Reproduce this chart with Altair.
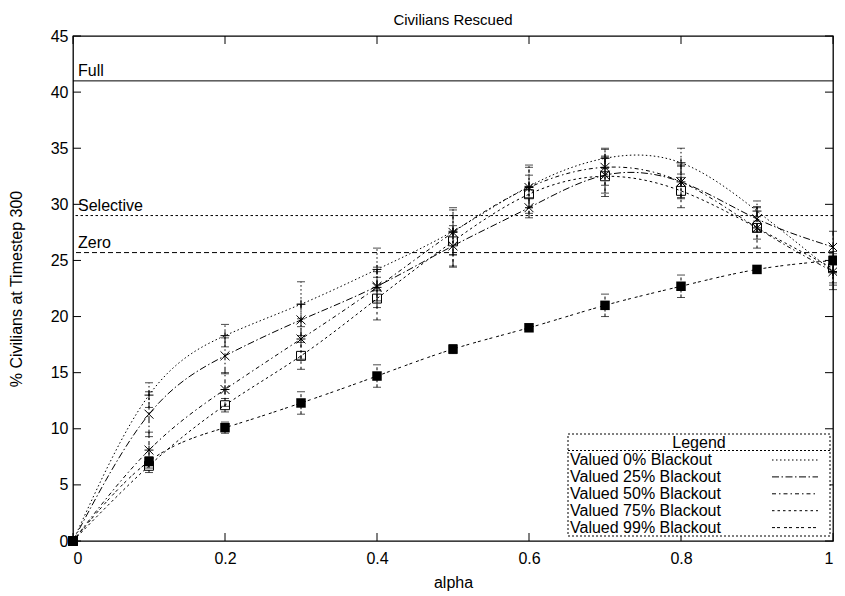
import altair as alt
import pandas as pd

alphas = [0.0, 0.1, 0.2, 0.3, 0.4, 0.5, 0.6, 0.7, 0.8, 0.9, 1.0]
series = ["Valued 0% Blackout", "Valued 25% Blackout", "Valued 50% Blackout",
          "Valued 75% Blackout", "Valued 99% Blackout"]

v0 = [0, 13.0, 18.3, 21.1, 24.2, 27.6, 31.6, 34.1, 33.7, 29.4, 24.0]
v25 = [0, 11.3, 16.5, 19.7, 22.7, 26.3, 29.7, 32.6, 32.0, 28.7, 26.2]
v50 = [0, 8.1, 13.5, 18.0, 22.6, 27.5, 31.5, 33.3, 32.0, 27.9, 24.0]
v75 = [0, 6.7, 12.1, 16.5, 21.6, 26.7, 30.9, 32.5, 31.2, 27.9, 24.3]
v99 = [0, 7.1, 10.1, 12.3, 14.7, 17.1, 19.0, 21.0, 22.7, 24.2, 25.0]

e0 = [0, 1.1, 1.0, 2.0, 1.9, 2.1, 1.9, 0.9, 1.3, 0.9, 1.0]
e25 = [0, 2.0, 1.6, 1.4, 1.3, 1.8, 0.9, 1.6, 1.5, 1.1, 1.4]
e50 = [0, 1.6, 1.5, 1.8, 1.8, 2.0, 1.8, 1.6, 1.4, 1.0, 1.6]
e75 = [0, 0.6, 0.6, 1.2, 1.9, 2.3, 1.7, 1.8, 1.5, 1.8, 1.5]
e99 = [0, 0.4, 0.5, 1.0, 1.0, 0.4, 0.2, 1.0, 1.0, 0.2, 0.4]

ref_names = ["Full", "Selective", "Zero"]
ref_values = [41.0, 29.0, 25.7]

x_ticks = [0, 0.2, 0.4, 0.6, 0.8, 1.0]
y_ticks = [0, 5, 10, 15, 20, 25, 30, 35, 40, 45]

W, H = 760, 505
FONT = "Liberation Sans"
FS = 16

vals = [v0, v25, v50, v75, v99]
errs = [e0, e25, e50, e75, e99]
rows = []
for s, vs, es in zip(series, vals, errs):
    for a, v, e in zip(alphas, vs, es):
        rows.append({"series": s, "alpha": a, "value": v, "err": e,
                     "lo": v - e, "hi": v + e})
df = pd.DataFrame(rows)

dashes = [[1.5, 2.5], [7, 2.5, 1.5, 2.5], [4, 3, 1.5, 3], [2.5, 3], [3, 2, 3, 4]]
dash_scale = alt.Scale(domain=series, range=dashes)

plus = "M-1,0L1,0M0,-1L0,1"
cross = "M-1,-1L1,1M-1,1L1,-1"
star = "M-1,0L1,0M0,-1L0,1M-1,-1L1,1M-1,1L1,-1"
shape_scale = alt.Scale(domain=series, range=[plus, cross, star, "square", "square"])

xs = alt.Scale(domain=[0, 1], nice=False, zero=False)
ys = alt.Scale(domain=[0, 45], nice=False, zero=False)

X = alt.X("alpha:Q", scale=xs,
          axis=alt.Axis(values=x_ticks, title="alpha", format="~g",
                        labelPadding=9, titlePadding=8))
Y = alt.Y("value:Q", scale=ys,
          axis=alt.Axis(values=y_ticks, title="% Civilians at Timestep 300",
                        labelPadding=5, titlePadding=26))

base = alt.Chart(df)

lines = base.mark_line(interpolate="natural", color="black", strokeWidth=1).encode(
    x=X, y=Y,
    strokeDash=alt.StrokeDash("series:N", scale=dash_scale, legend=None),
    detail="series:N",
)

err_df = df[df["err"] > 0]
ebase = alt.Chart(err_df)
err_rules = ebase.mark_rule(color="black", strokeWidth=1).encode(
    x=alt.X("alpha:Q", scale=xs),
    y=alt.Y("lo:Q", scale=ys),
    y2="hi:Q",
    strokeDash=alt.StrokeDash("series:N", scale=dash_scale, legend=None),
)
cap_lo = ebase.mark_tick(orient="horizontal", size=8, thickness=1, color="black").encode(
    x=alt.X("alpha:Q", scale=xs), y=alt.Y("lo:Q", scale=ys))
cap_hi = ebase.mark_tick(orient="horizontal", size=8, thickness=1, color="black").encode(
    x=alt.X("alpha:Q", scale=xs), y=alt.Y("hi:Q", scale=ys))

pts_open = base.transform_filter(alt.datum.series != series[4]).mark_point(
    filled=False, color="black", strokeWidth=1, size=80, opacity=1).encode(
    x=alt.X("alpha:Q", scale=xs), y=alt.Y("value:Q", scale=ys),
    shape=alt.Shape("series:N", scale=shape_scale, legend=None),
)
pts_fill = base.transform_filter(alt.datum.series == series[4]).mark_point(
    filled=True, color="black", size=90, opacity=1, shape="square").encode(
    x=alt.X("alpha:Q", scale=xs), y=alt.Y("value:Q", scale=ys),
)

ref_df = pd.DataFrame({"name": ref_names, "value": ref_values})
ref_dashes = [[1, 0], [2.5, 2.5], [5, 3]]
ref_rules = [
    alt.Chart(ref_df).transform_filter(alt.datum.name == n).mark_rule(
        color="black", strokeWidth=1, strokeDash=d).encode(y=alt.Y("value:Q", scale=ys))
    for n, d in zip(ref_names, ref_dashes)
]
ref_text = alt.Chart(ref_df).mark_text(
    align="left", baseline="bottom", dx=5, dy=-2, font=FONT, fontSize=FS, color="black").encode(
    x=alt.value(0), y=alt.Y("value:Q", scale=ys), text="name:N")

# inward ticks on all four sides
yt_df = pd.DataFrame({"v": y_ticks})
xt_df = pd.DataFrame({"v": x_ticks})
yt_left = alt.Chart(yt_df).mark_rule(color="black").encode(
    y=alt.Y("v:Q", scale=ys), x=alt.value(0), x2=alt.value(8))
yt_right = alt.Chart(yt_df).mark_rule(color="black").encode(
    y=alt.Y("v:Q", scale=ys), x=alt.value(W - 8), x2=alt.value(W))
xt_bot = alt.Chart(xt_df).mark_rule(color="black").encode(
    x=alt.X("v:Q", scale=xs), y=alt.value(H), y2=alt.value(H - 8))
xt_top = alt.Chart(xt_df).mark_rule(color="black").encode(
    x=alt.X("v:Q", scale=xs), y=alt.value(0), y2=alt.value(8))

# legend box (gnuplot style)
leg_df = pd.DataFrame({"series": series, "i": list(range(len(series)))})
leg = alt.Chart(leg_df).transform_calculate(
    ly="424 + 16.9 * datum.i", lx="497", sx1="699", sx2="745")
leg_text = leg.mark_text(align="left", baseline="middle", font=FONT, fontSize=FS,
                         color="black").encode(
    x=alt.X("lx:Q", scale=None), y=alt.Y("ly:Q", scale=None), text="series:N")
leg_lines = leg.mark_rule(color="black", strokeWidth=1).encode(
    x=alt.X("sx1:Q", scale=None), x2="sx2:Q", y=alt.Y("ly:Q", scale=None),
    strokeDash=alt.StrokeDash("series:N", scale=dash_scale, legend=None))
box_df = pd.DataFrame({"t": ["Legend"]})
leg_box = alt.Chart(box_df).mark_rect(fill="white", stroke="black", strokeWidth=1,
                                      strokeDash=[2, 2]).encode(
    x=alt.value(495), x2=alt.value(757), y=alt.value(398), y2=alt.value(500))
leg_sep = alt.Chart(box_df).mark_rule(color="black", strokeWidth=1, strokeDash=[2, 2]).encode(
    x=alt.value(495), x2=alt.value(757), y=alt.value(414.5))
leg_title = alt.Chart(box_df).mark_text(align="center", baseline="middle", font=FONT,
                                        fontSize=FS, color="black").encode(
    x=alt.value(626), y=alt.value(406.5), text="t:N")

chart = alt.layer(
    *ref_rules, ref_text, lines, err_rules, cap_lo, cap_hi, pts_open, pts_fill,
    yt_left, yt_right, xt_bot, xt_top,
    leg_box, leg_sep, leg_title, leg_text, leg_lines,
).properties(
    width=W, height=H,
    title=alt.TitleParams("Civilians Rescued", font=FONT, fontSize=15,
                          fontWeight="normal", offset=0, anchor="middle"),
    autosize=alt.AutoSizeParams(type="none"),
    padding={"left": 65, "top": 28, "right": 4, "bottom": 52},
).configure_view(
    stroke="black", strokeWidth=1.3
).configure_axis(
    domain=False, ticks=False, grid=False,
    labelFont=FONT, labelFontSize=FS, labelColor="black",
    titleFont=FONT, titleFontSize=FS, titleFontWeight="normal", titleColor="black",
)

chart.save("out.html", embed_options={"renderer": "svg", "actions": False})
